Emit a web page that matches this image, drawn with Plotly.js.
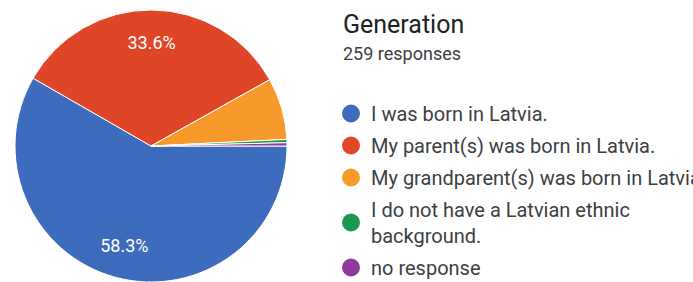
<!DOCTYPE html>
<html>
<head>
<meta charset="utf-8">
<script src="https://cdn.plot.ly/plotly-3.0.1.min.js"></script>
<style>html,body{margin:0;padding:0;background:#fff;}#chart{width:693px;height:282px;}</style>
</head>
<body>
<div id="chart"></div>
<script>
const categories = [
  "I was born in Latvia.",
  "My parent(s) was born in Latvia.",
  "My grandparent(s) was born in Latvia.",
  "I do not have a Latvian ethnic<br>background.",
  "no response"
];
const counts = [151, 87, 19, 1, 1];
const colors = ["#3d6bbd", "#df4628", "#f89a2b", "#1a9850", "#8d3b9c"];
const sliceLabels = ["%{percent:.1%}", "%{percent:.1%}", "", "", ""];
const chartTitle = "Generation";
const subTitle = "259 responses";

const pieDomain = {x: [15/693, 287/693], y: [0, 272/282]};

// colored slices
const pie = {
  type: "pie",
  labels: categories,
  values: counts,
  sort: false,
  direction: "clockwise",
  rotation: 90,
  marker: {colors: colors, line: {color: "#ffffff", width: 1}},
  textinfo: "none",
  hoverinfo: "label+percent",
  showlegend: false,
  domain: pieDomain
};

// percentage labels, placed in the outer part of each slice
const pieText = {
  type: "pie",
  labels: categories,
  values: counts,
  sort: false,
  direction: "clockwise",
  rotation: 90,
  hole: 0.52,
  marker: {colors: colors.map(() => "rgba(0,0,0,0)"), line: {width: 0}},
  texttemplate: sliceLabels,
  textposition: "inside",
  insidetextorientation: "horizontal",
  textfont: {color: "#ffffff", size: 18, family: "Roboto, Arial, sans-serif"},
  hoverinfo: "skip",
  showlegend: false,
  domain: pieDomain
};

const legendTraces = categories.map((c, i) => ({
  type: "scatter",
  mode: "markers",
  x: [null], y: [null],
  name: c,
  legendgroup: "g" + i,
  marker: {symbol: "circle", size: 16, color: colors[i], line: {color: colors[i], width: 2}},
  showlegend: true,
  hoverinfo: "skip"
}));

const layout = {
  width: 693, height: 282,
  margin: {l: 0, r: 0, t: 0, b: 0, autoexpand: false},
  paper_bgcolor: "#ffffff",
  plot_bgcolor: "#ffffff",
  font: {family: "Roboto, Arial, sans-serif", color: "#3c4043"},
  title: {
    text: chartTitle,
    font: {size: 25, color: "#202124"},
    x: 343/693, xanchor: "left", xref: "paper",
    y: 1 - 15/282, yanchor: "top", yref: "container"
  },
  annotations: [{
    text: subTitle,
    xref: "paper", yref: "paper",
    x: 341/693, xanchor: "left",
    y: 1 - 54/282, yanchor: "middle",
    showarrow: false,
    font: {size: 18, color: "#3c4043"}
  }],
  xaxis: {visible: false, domain: [0.99, 1]},
  yaxis: {visible: false, domain: [0.99, 1]},
  showlegend: true,
  legend: {
    x: 331/693, xanchor: "left",
    y: 1 - 94/282, yanchor: "top",
    font: {size: 20, color: "#3c4043"},
    tracegroupgap: 3,
    bgcolor: "rgba(0,0,0,0)",
    itemclick: false, itemdoubleclick: false
  }
};

Plotly.newPlot("chart", [pie, pieText].concat(legendTraces), layout, {displayModeBar: false, staticPlot: true});
</script>
</body>
</html>
